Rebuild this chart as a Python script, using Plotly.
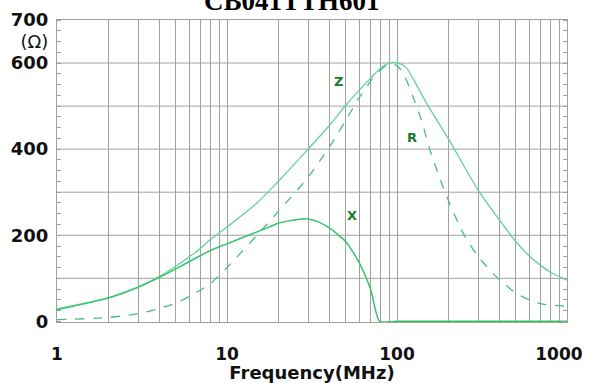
import math
import plotly.graph_objects as go

# ---------------- data ----------------
z_freq = [1, 2, 3, 4, 5, 6, 7, 8, 9, 10, 15, 20, 30, 40, 50, 60, 70, 80, 90, 100,
          113, 125, 150, 200, 300, 400, 500, 600, 700, 800, 1000]
z_vals = [29, 55, 80, 104, 128, 150, 170, 190, 205, 219, 275, 325, 400, 455, 502, 537, 565, 588, 600, 601,
          590, 562, 505, 425, 305, 236, 185, 152, 130, 114, 96]

r_freq = [1, 2, 3, 4, 5, 6, 7, 8, 10, 15, 20, 30, 40, 50, 60, 70, 80, 90, 100,
          111, 125, 140, 156, 174, 196, 245, 300, 400, 500, 600, 700, 1000]
r_vals = [4, 9, 18, 30, 42, 58, 73, 88, 125, 200, 255, 335, 405, 467, 520, 558, 584, 597, 594,
          569, 519, 464, 399, 345, 290, 205, 151, 97, 66, 50, 41, 35]

x_freq = [1, 2, 3, 4, 5, 6, 7, 8, 10, 13.6, 17.9, 20, 23.5, 28, 30, 35, 40, 50, 60, 70, 79, 100, 1000]
x_vals = [27, 54, 79, 102, 122, 139, 153, 165, 180, 201, 220, 228, 234, 238, 238, 230, 217, 185, 136, 74, 0, 0, 0]

curve_labels = ["Z", "R", "X"]
label_freq = [45, 122, 54]
label_vals = [556, 426, 247]

title_text = "CB041TTH601"
y_tick_vals = [0, 200, 400, 600, 650, 700]
y_tick_text = ["<b>0</b>", "<b>200</b>", "<b>400</b>", "<b>600</b>", "(Ω)", "<b>700</b>"]
y_grid_vals = [100, 200, 300, 400, 500, 600]

decades = [1, 10, 100, 1000]
x_tick_vals = [m * d for d in [1, 10, 100] for m in range(1, 10)] + [1000]
x_tick_text = []
for v in x_tick_vals:
    if v == 1000:
        x_tick_text.append("<b>1000</b>\u00a0\u00a0\u00a0")
    elif v in decades:
        x_tick_text.append("<b>%d</b>" % v)
    else:
        x_tick_text.append("")

GRID = "#a0a0a0"

fig = go.Figure()
fig.add_trace(go.Scatter(x=z_freq, y=z_vals, mode="lines",
                         line=dict(color="#62d29a", width=1.3, shape="spline", smoothing=0.8), name="Z"))
fig.add_trace(go.Scatter(x=r_freq, y=r_vals, mode="lines",
                         line=dict(color="#45bf80", width=1.3, dash="dash", shape="spline", smoothing=0.8), name="R"))
fig.add_trace(go.Scatter(x=x_freq, y=x_vals, mode="lines",
                         line=dict(color="#35c46c", width=1.5, shape="spline", smoothing=0.6), name="X"))

for lab, f, v in zip(curve_labels, label_freq, label_vals):
    fig.add_annotation(x=math.log10(f), y=v, text="<b>%s</b>" % lab, showarrow=False,
                       font=dict(family="DejaVu Sans", size=13, color="#1c7a30"))

for v in y_grid_vals:
    fig.add_shape(type="line", xref="paper", x0=0, x1=1, yref="y", y0=v, y1=v,
                  line=dict(color=GRID, width=1), layer="below")

fig.add_annotation(xref="paper", yref="paper", x=0.46, y=1.0, yanchor="middle", yshift=19,
                   text="<b>%s</b>" % title_text, showarrow=False,
                   font=dict(family="Liberation Serif", size=27, color="#000"))

fig.update_layout(
    width=590, height=383,
    margin=dict(l=57, r=23, t=20, b=61, autoexpand=False),
    paper_bgcolor="white", plot_bgcolor="white",
    showlegend=False,
    xaxis=dict(type="log", range=[0, 3], tickvals=x_tick_vals, ticktext=x_tick_text,
               automargin=False,
               showgrid=True, gridcolor=GRID, gridwidth=1, ticks="", ticklen=0, zeroline=False,
               showline=True, linecolor=GRID, linewidth=1, mirror=True,
               ticklabelstandoff=17, ticklabeloverflow="allow",
               tickfont=dict(family="DejaVu Sans", size=17, color="#111"),
               title=dict(text="<b>Frequency(MHz)</b>", standoff=0,
                          font=dict(family="DejaVu Sans", size=18, color="#111"))),
    yaxis=dict(range=[-1.5, 700], tickvals=y_tick_vals, ticktext=y_tick_text,
               automargin=False,
               showgrid=False, ticks="", ticklen=0, zeroline=False,
               showline=True, linecolor=GRID, linewidth=1, mirror="allticks",
               ticklabelstandoff=4,
               minor=dict(dtick=25, ticks="inside", ticklen=4, tickcolor=GRID, showgrid=False),
               tickfont=dict(family="DejaVu Sans", size=18, color="#111")),
)

fig.write_html("out.html", config={"displayModeBar": False},
               post_script="document.body.style.margin='0';")
